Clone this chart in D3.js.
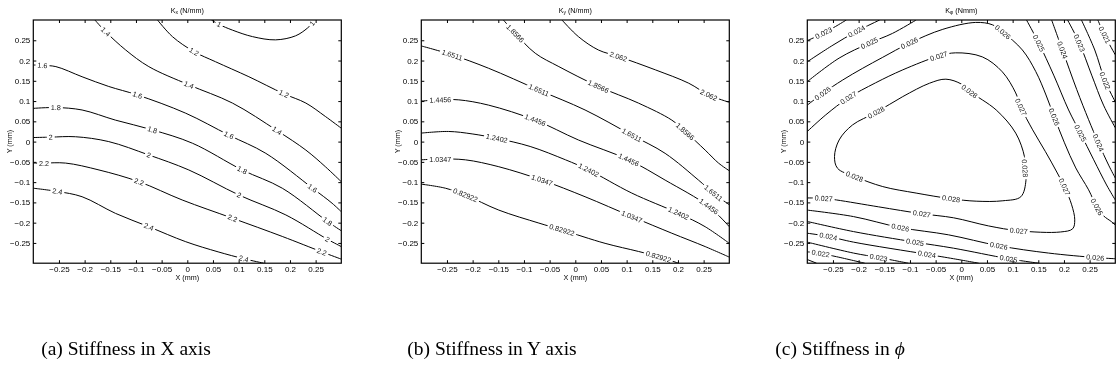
<!DOCTYPE html>
<html>
<head>
<meta charset="utf-8">
<script src="https://cdn.jsdelivr.net/npm/d3@7"></script>
<style>
  body { margin: 0; background: #fff; }
  svg { display: block; will-change: transform; }
  .axis text { font-family: "Liberation Sans", Arial, sans-serif; font-size: 8px; fill: #000; }
  .axis line { stroke: #000; }
  .axis path { display: none; }
  .title, .axis-label { font-family: "Liberation Sans", Arial, sans-serif; font-size: 7.2px; fill: #000; }
  .clabel { font-family: "Liberation Sans", Arial, sans-serif; font-size: 7.2px; fill: #111; }
  .caption { font-family: "Liberation Serif", "DejaVu Serif", serif; font-size: 19.5px; fill: #000; }
</style>
</head>
<body>
<div id="chart"></div>
<script>
// --- 1. DATA ---
const tickValues = [-0.25, -0.2, -0.15, -0.1, -0.05, 0, 0.05, 0.1, 0.15, 0.2, 0.25];
const captions = ["(a) Stiffness in X axis", "(b) Stiffness in Y axis", "(c) Stiffness in "];
const titleSubs = ["x", "y", "φ"];
const titleUnits = [" (N/mm)", " (N/mm)", " (Nmm)"];

// contour lines, in mm; labels = indices of labelled points
const kxContours = [
    { level: 1, labels: [1, 7], pts: [[0.047, 0.300], [0.062, 0.289], [0.088, 0.275], [0.127, 0.259], [0.172, 0.251], [0.211, 0.261], [0.234, 0.280], [0.243, 0.292], [0.247, 0.300]] },
    { level: 1.2, labels: [2, 5], pts: [[-0.058, 0.300], [-0.029, 0.259], [0.013, 0.222], [0.055, 0.197], [0.120, 0.160], [0.188, 0.118], [0.231, 0.095], [0.269, 0.062], [0.300, 0.033]] },
    { level: 1.4, labels: [1, 4, 6], pts: [[-0.180, 0.300], [-0.159, 0.271], [-0.120, 0.226], [-0.075, 0.185], [0.003, 0.140], [0.088, 0.095], [0.175, 0.027], [0.231, -0.021], [0.269, -0.062], [0.300, -0.099]] },
    { level: 1.6, labels: [1, 5, 7, 9], pts: [[-0.300, 0.189], [-0.282, 0.188], [-0.256, 0.185], [-0.205, 0.160], [-0.153, 0.136], [-0.097, 0.115], [-0.003, 0.070], [0.081, 0.016], [0.153, -0.029], [0.244, -0.115], [0.282, -0.152], [0.300, -0.173]] },
    { level: 1.8, labels: [1, 4, 6, 8], pts: [[-0.300, 0.082], [-0.256, 0.084], [-0.205, 0.078], [-0.140, 0.053], [-0.068, 0.029], [0.010, -0.004], [0.107, -0.070], [0.185, -0.115], [0.273, -0.197], [0.300, -0.220]] },
    { level: 2, labels: [1, 4, 6, 8], pts: [[-0.300, 0.010], [-0.266, 0.011], [-0.218, 0.012], [-0.153, 0.000], [-0.075, -0.033], [0.003, -0.070], [0.101, -0.132], [0.192, -0.181], [0.273, -0.241], [0.300, -0.259]] },
    { level: 2.2, labels: [1, 4, 6, 8], pts: [[-0.300, -0.053], [-0.279, -0.053], [-0.237, -0.053], [-0.172, -0.070], [-0.094, -0.099], [-0.010, -0.144], [0.088, -0.189], [0.185, -0.234], [0.262, -0.272], [0.300, -0.290]] },
    { level: 2.4, labels: [1, 4, 7], pts: [[-0.300, -0.115], [-0.253, -0.123], [-0.205, -0.136], [-0.140, -0.177], [-0.075, -0.210], [-0.003, -0.247], [0.060, -0.272], [0.110, -0.289], [0.149, -0.300]] }
];

const kyContours = [
    { level: 2.062, labels: [3, 6], pts: [[-0.026, 0.300], [0.006, 0.259], [0.045, 0.226], [0.084, 0.210], [0.156, 0.177], [0.221, 0.144], [0.260, 0.115], [0.300, 0.097]] },
    { level: 1.8566, labels: [1, 4, 7], pts: [[-0.140, 0.300], [-0.117, 0.267], [-0.078, 0.218], [-0.032, 0.185], [0.045, 0.136], [0.123, 0.095], [0.188, 0.053], [0.214, 0.025], [0.253, -0.021], [0.279, -0.053], [0.300, -0.072]] },
    { level: 1.6511, labels: [1, 3, 5, 8], pts: [[-0.300, 0.236], [-0.240, 0.214], [-0.169, 0.181], [-0.071, 0.127], [0.019, 0.078], [0.110, 0.016], [0.175, -0.029], [0.240, -0.095], [0.269, -0.127], [0.300, -0.156]] },
    { level: 1.4456, labels: [1, 4, 6, 8], pts: [[-0.300, 0.100], [-0.263, 0.103], [-0.227, 0.103], [-0.169, 0.090], [-0.078, 0.053], [0.006, 0.004], [0.104, -0.045], [0.175, -0.095], [0.260, -0.160], [0.300, -0.210]] },
    { level: 1.2402, labels: [3, 6, 8], pts: [[-0.300, 0.021], [-0.247, 0.025], [-0.201, 0.019], [-0.153, 0.008], [-0.088, -0.012], [-0.019, -0.045], [0.026, -0.070], [0.110, -0.127], [0.201, -0.177], [0.253, -0.210], [0.300, -0.251]] },
    { level: 1.0347, labels: [1, 4, 6], pts: [[-0.300, -0.045], [-0.263, -0.043], [-0.214, -0.045], [-0.149, -0.062], [-0.065, -0.095], [0.019, -0.136], [0.110, -0.185], [0.188, -0.226], [0.253, -0.259], [0.300, -0.285]] },
    { level: 0.82922, labels: [2, 5, 8], pts: [[-0.300, -0.105], [-0.253, -0.115], [-0.214, -0.132], [-0.149, -0.169], [-0.071, -0.201], [-0.026, -0.218], [0.058, -0.251], [0.123, -0.271], [0.162, -0.284], [0.201, -0.300]] }
];

const kphiContours = [
    { level: 0.023, labels: [1], pts: [[-0.300, 0.249], [-0.268, 0.268], [-0.245, 0.284], [-0.224, 0.300]] },
    { level: 0.024, labels: [2], pts: [[-0.300, 0.197], [-0.250, 0.238], [-0.204, 0.272], [-0.159, 0.300]] },
    { level: 0.025, labels: [2], pts: [[-0.300, 0.148], [-0.238, 0.206], [-0.179, 0.243], [-0.134, 0.267], [-0.088, 0.300]] },
    { level: 0.026, labels: [1, 5, 9, 13, 17], pts: [[-0.300, 0.090], [-0.270, 0.119], [-0.231, 0.152], [-0.192, 0.181], [-0.153, 0.208], [-0.101, 0.243], [-0.036, 0.277], [0.028, 0.294], [0.061, 0.288], [0.081, 0.270], [0.119, 0.226], [0.145, 0.173], [0.165, 0.115], [0.181, 0.061], [0.201, -0.003], [0.223, -0.065], [0.248, -0.119], [0.264, -0.161], [0.277, -0.183], [0.293, -0.198], [0.300, -0.206]] },
    { level: 0.027, labels: [2, 5, 10, 14, 19, 22, 25], pts: [[-0.300, 0.025], [-0.264, 0.066], [-0.220, 0.108], [-0.167, 0.145], [-0.114, 0.177], [-0.044, 0.211], [-0.011, 0.219], [0.041, 0.209], [0.080, 0.172], [0.106, 0.120], [0.116, 0.085], [0.139, 0.029], [0.164, -0.025], [0.186, -0.075], [0.201, -0.112], [0.215, -0.156], [0.221, -0.193], [0.217, -0.215], [0.193, -0.223], [0.112, -0.220], [0.053, -0.208], [-0.015, -0.188], [-0.077, -0.178], [-0.161, -0.161], [-0.243, -0.144], [-0.268, -0.140], [-0.300, -0.139]] },
    { level: 0.028, closed: true, labels: [3, 8, 12, 17, 20], pts: [[-0.247, -0.037], [-0.238, 0.004], [-0.212, 0.041], [-0.166, 0.072], [-0.114, 0.111], [-0.062, 0.144], [-0.030, 0.154], [0.000, 0.142], [0.016, 0.124], [0.068, 0.078], [0.106, 0.021], [0.123, -0.037], [0.124, -0.066], [0.126, -0.095], [0.116, -0.136], [0.081, -0.146], [0.029, -0.147], [-0.020, -0.141], [-0.088, -0.127], [-0.153, -0.111], [-0.208, -0.086], [-0.241, -0.066]] },
    { level: 0.026, labels: [2, 4, 6], pts: [[-0.300, -0.169], [-0.210, -0.185], [-0.119, -0.212], [-0.025, -0.230], [0.073, -0.257], [0.170, -0.275], [0.261, -0.286], [0.300, -0.289]] },
    { level: 0.025, labels: [2, 4], pts: [[-0.300, -0.197], [-0.210, -0.222], [-0.090, -0.248], [-0.015, -0.263], [0.092, -0.289], [0.151, -0.300]] },
    { level: 0.024, labels: [1, 3], pts: [[-0.300, -0.226], [-0.259, -0.234], [-0.210, -0.248], [-0.067, -0.278], [-0.015, -0.289], [0.034, -0.300]] },
    { level: 0.023, labels: [2], pts: [[-0.300, -0.248], [-0.210, -0.275], [-0.161, -0.286], [-0.103, -0.300]] },
    { level: 0.022, labels: [1], pts: [[-0.300, -0.272], [-0.274, -0.276], [-0.243, -0.284], [-0.188, -0.300]] },
    { level: 0.021, labels: [], pts: [[-0.300, -0.291], [-0.282, -0.300]] },
    { level: 0.025, labels: [1, 4], pts: [[0.127, 0.300], [0.151, 0.243], [0.180, 0.164], [0.209, 0.078], [0.232, 0.021], [0.258, -0.045], [0.283, -0.107], [0.300, -0.144]] },
    { level: 0.024, labels: [1, 4], pts: [[0.176, 0.300], [0.197, 0.226], [0.225, 0.128], [0.248, 0.054], [0.267, -0.003], [0.287, -0.058], [0.300, -0.090]] },
    { level: 0.023, labels: [1], pts: [[0.207, 0.300], [0.230, 0.243], [0.254, 0.164], [0.277, 0.090], [0.300, 0.034]] },
    { level: 0.022, labels: [2], pts: [[0.234, 0.300], [0.260, 0.226], [0.280, 0.150], [0.300, 0.098]] },
    { level: 0.021, labels: [1], pts: [[0.266, 0.300], [0.279, 0.263], [0.300, 0.214]] }
];

const allContours = [kxContours, kyContours, kphiContours];

// --- 2. LAYOUT ---
const width = 1116;
const height = 372;
const plotW = 308;
const plotH = 243.2;
const plotTop = 20;
const plotLefts = [33.3, 421.3, 807.3];
const captionCenters = [126, 492, 840];

const svg = d3.select("#chart")
    .append("svg")
    .attr("width", width)
    .attr("height", height);

const x = d3.scaleLinear().domain([-0.3, 0.3]).range([0, plotW]);
const y = d3.scaleLinear().domain([-0.3, 0.3]).range([plotH, 0]);
const fmt = d3.format("~g");

allContours.forEach((contours, k) => {
    const g = svg.append("g")
        .attr("transform", `translate(${plotLefts[k]},${plotTop})`);

    g.append("clipPath")
        .attr("id", "clip" + k)
        .append("rect")
        .attr("width", plotW)
        .attr("height", plotH);

    // --- 3. CONTOUR LINES ---
    const lineOpen = d3.line()
        .x(d => x(d[0]))
        .y(d => y(d[1]))
        .curve(d3.curveCatmullRom.alpha(0.5));
    const lineClosed = d3.line()
        .x(d => x(d[0]))
        .y(d => y(d[1]))
        .curve(d3.curveCatmullRomClosed.alpha(0.5));

    g.append("g")
        .attr("clip-path", `url(#clip${k})`)
        .selectAll("path")
        .data(contours)
        .join("path")
        .attr("d", c => (c.closed ? lineClosed : lineOpen)(c.pts))
        .attr("fill", "none")
        .attr("stroke", "#000")
        .attr("stroke-width", 1);

    // --- 4. INLINE LEVEL LABELS ---
    const labelLayer = g.append("g");
    contours.forEach(c => {
        const n = c.pts.length;
        c.labels.forEach(i => {
            let a, b;
            if (c.closed) {
                a = c.pts[(i - 1 + n) % n];
                b = c.pts[(i + 1) % n];
            } else {
                a = c.pts[Math.max(0, i - 1)];
                b = c.pts[Math.min(n - 1, i + 1)];
            }
            let ang = Math.atan2(y(b[1]) - y(a[1]), x(b[0]) - x(a[0])) * 180 / Math.PI;
            if (ang > 90) ang -= 180;
            if (ang < -90) ang += 180;
            const lg = labelLayer.append("g")
                .attr("transform", `translate(${x(c.pts[i][0])},${y(c.pts[i][1])}) rotate(${ang})`);
            const bg = lg.append("rect").attr("fill", "#fff");
            const t = lg.append("text")
                .attr("class", "clabel")
                .attr("text-anchor", "middle")
                .attr("dy", "0.35em")
                .text(String(c.level));
            const w = t.node().getComputedTextLength();
            bg.attr("x", -w / 2 - 2).attr("y", -3.2).attr("width", w + 4).attr("height", 6.4);
        });
    });

    // --- 5. AXES (ticks inside, box on) ---
    g.append("g")
        .attr("class", "axis")
        .attr("transform", `translate(0,${plotH})`)
        .call(d3.axisBottom(x).tickValues(tickValues).tickSize(-3).tickPadding(3).tickFormat(fmt))
        .attr("font-family", null).attr("font-size", null);
    g.append("g")
        .attr("class", "axis")
        .call(d3.axisTop(x).tickValues(tickValues).tickSize(-3).tickFormat(""));
    g.append("g")
        .attr("class", "axis")
        .call(d3.axisLeft(y).tickValues(tickValues).tickSize(-3).tickPadding(3).tickFormat(fmt))
        .attr("font-family", null).attr("font-size", null);
    g.append("g")
        .attr("class", "axis")
        .attr("transform", `translate(${plotW},0)`)
        .call(d3.axisRight(y).tickValues(tickValues).tickSize(-3).tickFormat(""));

    g.append("rect")
        .attr("width", plotW)
        .attr("height", plotH)
        .attr("fill", "none")
        .attr("stroke", "#000")
        .attr("stroke-width", 1.2);

    // --- 6. TITLES / AXIS LABELS ---
    const title = g.append("text")
        .attr("class", "title")
        .attr("x", plotW / 2)
        .attr("y", -7.5)
        .attr("text-anchor", "middle");
    title.append("tspan").text("K");
    title.append("tspan").attr("font-size", "5px").attr("dy", 1.6).text(titleSubs[k]);
    title.append("tspan").attr("dy", -1.6).text(titleUnits[k]);

    g.append("text")
        .attr("class", "axis-label")
        .attr("x", plotW / 2)
        .attr("y", plotH + 16.5)
        .attr("text-anchor", "middle")
        .text("X (mm)");

    g.append("text")
        .attr("class", "axis-label")
        .attr("transform", `translate(-21.5,${plotH / 2}) rotate(-90)`)
        .attr("text-anchor", "middle")
        .text("Y (mm)");

    // --- 7. CAPTION ---
    const cap = svg.append("text")
        .attr("class", "caption")
        .attr("x", captionCenters[k])
        .attr("y", 355)
        .attr("text-anchor", "middle")
        .text(captions[k]);
    if (k === 2) cap.append("tspan").attr("font-style", "italic").text("ϕ");
});
</script>
</body>
</html>
